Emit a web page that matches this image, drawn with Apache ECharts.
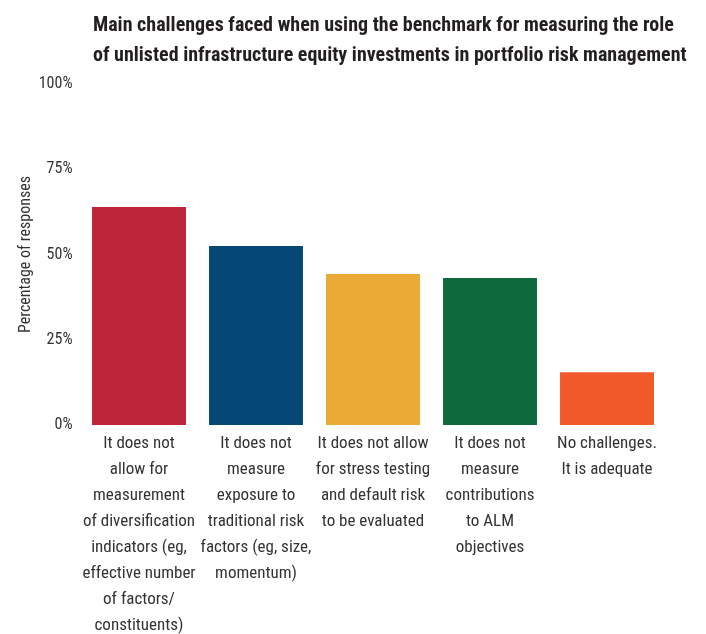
<!DOCTYPE html>
<html>
<head>
<meta charset="utf-8">
<script src="https://cdn.jsdelivr.net/npm/echarts@6/dist/echarts.min.js"></script>
<style>
html,body{margin:0;padding:0;background:#fff;}
#main{width:706px;height:634px;}
</style>
</head>
<body>
<div id="main"></div>
<script>
const titleText = 'Main challenges faced when using the benchmark for measuring the role\nof unlisted infrastructure equity investments in portfolio risk management';
const categories = [
  'It does not\nallow for\nmeasurement\nof diversification\nindicators (eg,\neffective number\nof factors/\nconstituents)',
  'It does not\nmeasure\nexposure to\ntraditional risk\nfactors (eg, size,\nmomentum)',
  'It does not allow\nfor stress testing\nand default risk\nto be evaluated',
  'It does not\nmeasure\ncontributions\nto ALM\nobjectives',
  'No challenges.\nIt is adequate'
];
const values = [63.9, 52.5, 44.3, 43.1, 15.5];
const colors = ['#be253a', '#064875', '#eaaa35', '#0e6a3d', '#f05a2a'];
const yTicks = [0, 25, 50, 75, 100];
const yAxisName = 'Percentage of responses';

const FONT = '"Roboto Condensed", "Open Sans", sans-serif';
const chart = echarts.init(document.getElementById('main'), null, {renderer: 'canvas'});
chart.setOption({
  animation: false,
  backgroundColor: '#fff',
  title: {
    text: titleText,
    left: 88,
    top: 6,
    textStyle: {fontFamily: FONT, fontWeight: 'bold', fontSize: 20, color: '#231f20', lineHeight: 30}
  },
  grid: {left: 80.5, right: 40.5, top: 84, bottom: 209, containLabel: false, outerBoundsMode: 'none'},
  xAxis: {
    type: 'category',
    data: categories,
    axisLine: {show: false},
    axisTick: {show: false},
    axisLabel: {interval: 0, margin: 6, fontFamily: FONT, fontSize: 17, lineHeight: 26, color: '#333', align: 'center', verticalAlign: 'top'}
  },
  yAxis: {
    type: 'value',
    min: yTicks[0],
    max: yTicks[yTicks.length - 1],
    interval: 25,
    name: yAxisName,
    nameLocation: 'middle',
    nameGap: 47,
    nameMoveOverlap: false,
    nameTextStyle: {fontFamily: FONT, fontSize: 16, color: '#333'},
    axisLine: {show: false},
    axisTick: {show: false},
    splitLine: {show: false},
    axisLabel: {formatter: '{value}%', margin: 8, fontFamily: FONT, fontSize: 16, color: '#333'}
  },
  series: [{
    type: 'bar',
    data: values.map((v, i) => ({value: v, itemStyle: {color: colors[i]}})),
    barCategoryGap: '19.7%'
  }]
});
</script>
</body>
</html>
